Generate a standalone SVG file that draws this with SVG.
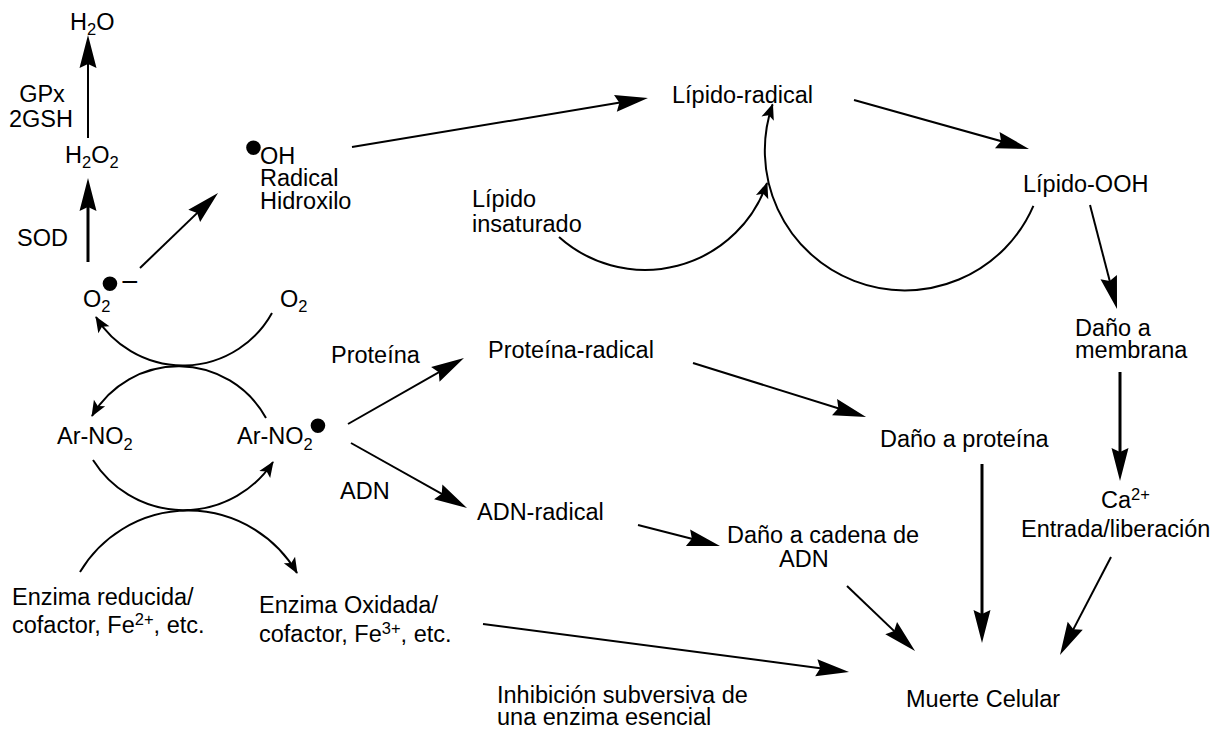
<svg xmlns="http://www.w3.org/2000/svg" width="1222" height="731" viewBox="0 0 1222 731">
<style>
text { font-family: "Liberation Sans", Arial, Helvetica, sans-serif; font-size: 23.5px; fill: #000; }
.sub { font-size: 16.5px; }
.dot { font-size: 54px; }
.minus { font-size: 30px; }
.ln { stroke: #000; stroke-width: 2; fill: none; }
.thick { stroke-width: 3; }
.big { marker-end: url(#ah); }
.sm { marker-end: url(#as); }
</style>
<defs>
<marker id="ah" viewBox="-24 -9 35 18" markerWidth="35" markerHeight="18" refX="0" refY="0" orient="auto" markerUnits="userSpaceOnUse">
<path d="M10,0 L-23,-8.5 L-19,0 L-23,8.5 Z" fill="#000"/>
</marker>
<marker id="as" viewBox="-16 -8 18 16" markerWidth="18" markerHeight="16" refX="0" refY="0" orient="auto" markerUnits="userSpaceOnUse">
<path d="M1,0 L-15,-6.5 L-11.5,0 L-15,6.5 Z" fill="#000"/>
</marker>
</defs>
<rect x="0" y="0" width="1222" height="731" fill="#fff"/>

<g id="connectors">
<line class="ln big" x1="88" y1="138" x2="88" y2="45"/>
<line class="ln thick big" x1="88" y1="262" x2="88" y2="188"/>
<line class="ln big" x1="140" y1="268" x2="210.8" y2="199.9"/>
<line class="ln big" x1="352" y1="147" x2="638.1" y2="99.6"/>
<line class="ln big" x1="854" y1="100" x2="1019.4" y2="146.3"/>
<line class="ln big" x1="1090" y1="205" x2="1114.5" y2="299.3"/>
<line class="ln thick big" x1="1120" y1="372" x2="1120" y2="471"/>
<line class="ln big" x1="348" y1="424" x2="455.3" y2="362.9"/>
<line class="ln big" x1="351" y1="443" x2="458.3" y2="503.1"/>
<line class="ln big" x1="638" y1="525" x2="710.3" y2="543.5"/>
<line class="ln big" x1="693" y1="363" x2="856.5" y2="414"/>
<line class="ln thick big" x1="982" y1="464" x2="982" y2="633"/>
<line class="ln big" x1="847" y1="586" x2="907.8" y2="644.1"/>
<line class="ln big" x1="1111" y1="557" x2="1064.6" y2="646.1"/>
<line class="ln big" x1="483" y1="624" x2="839.1" y2="670.7"/>
<path class="ln sm" d="M272,313 A102,102 0 0 1 96,317"/>
<path class="ln sm" d="M266,418 A100,100 0 0 0 92,416"/>
<path class="ln sm" d="M93,460 A107,107 0 0 0 273,462"/>
<path class="ln sm" d="M80,572 A126,126 0 0 1 297,573"/>
<path class="ln sm" d="M559,237 A129,129 0 0 0 767,183"/>
<path class="ln sm" d="M1033.4,205.8 A140,140 0 0 1 772.6,104.4"/>
</g>

<g id="n-h2o"><text x="70" y="30">H<tspan class="sub" dy="5">2</tspan><tspan dy="-5">O</tspan></text></g>
<g id="n-gpx"><text x="42" y="102" text-anchor="middle">GPx</text><text x="41" y="127" text-anchor="middle">2GSH</text></g>
<g id="n-h2o2"><text x="65" y="163">H<tspan class="sub" dy="5">2</tspan><tspan dy="-5">O</tspan><tspan class="sub" dy="5">2</tspan></text></g>
<g id="n-sod"><text x="17" y="246">SOD</text></g>
<g id="n-oh"><text><tspan class="dot" x="244" y="166">•</tspan><tspan x="260" y="164">OH</tspan></text><text x="260" y="186">Radical</text><text x="260" y="209">Hidroxilo</text></g>
<g id="n-superoxide"><text x="83" y="307">O<tspan class="sub" dy="5">2</tspan><tspan class="dot" x="100.5" y="302">•</tspan><tspan class="minus" x="121" y="292">−</tspan></text></g>
<g id="n-o2"><text x="280" y="307">O<tspan class="sub" dy="5">2</tspan></text></g>
<g id="n-arno2"><text x="57" y="444">Ar-NO<tspan class="sub" dy="6">2</tspan></text></g>
<g id="n-arno2rad"><text x="237" y="444">Ar-NO<tspan class="sub" dy="6">2</tspan><tspan class="dot" x="308.5" y="444">•</tspan></text></g>
<g id="n-enz-red"><text x="12" y="605">Enzima reducida/</text><text x="12" y="633">cofactor, Fe<tspan class="sub" dy="-8">2+</tspan><tspan dy="8">, etc.</tspan></text></g>
<g id="n-enz-ox"><text x="259" y="613">Enzima Oxidada/</text><text x="259" y="642">cofactor, Fe<tspan class="sub" dy="-8">3+</tspan><tspan dy="8">, etc.</tspan></text></g>
<g id="n-proteina"><text x="331" y="363">Proteína</text></g>
<g id="n-adn"><text x="340" y="499">ADN</text></g>
<g id="n-prot-rad"><text x="488" y="358">Proteína-radical</text></g>
<g id="n-adn-rad"><text x="477" y="520">ADN-radical</text></g>
<g id="n-lip-rad"><text x="672" y="103">Lípido-radical</text></g>
<g id="n-lip-ins"><text x="472" y="207">Lípido</text><text x="472" y="232">insaturado</text></g>
<g id="n-lip-ooh"><text x="1023" y="192">Lípido-OOH</text></g>
<g id="n-dano-mem"><text x="1075" y="336">Daño a</text><text x="1075" y="358">membrana</text></g>
<g id="n-dano-prot"><text x="880" y="447">Daño a proteína</text></g>
<g id="n-dano-adn"><text x="727" y="543">Daño a cadena de</text><text x="779" y="567">ADN</text></g>
<g id="n-ca"><text x="1101" y="508">Ca<tspan class="sub" dy="-8">2+</tspan></text><text x="1021" y="537">Entrada/liberación</text></g>
<g id="n-inhib"><text x="497" y="703">Inhibición subversiva de</text><text x="497" y="725">una enzima esencial</text></g>
<g id="n-muerte"><text x="906" y="707">Muerte Celular</text></g>
</svg>
